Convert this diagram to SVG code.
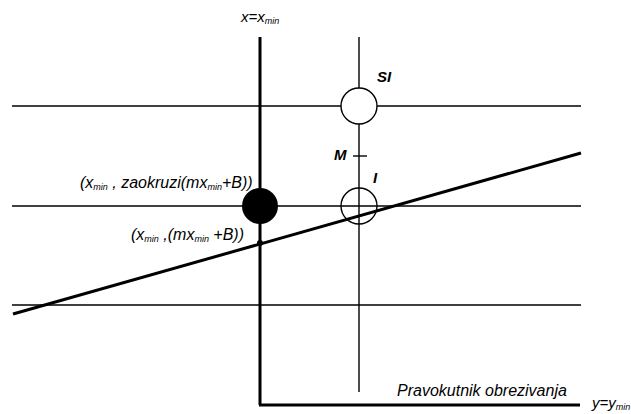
<svg xmlns="http://www.w3.org/2000/svg" width="631" height="414" viewBox="0 0 631 414">
<style>
.thin{stroke:#000;stroke-width:1.4;fill:none}
.thick{stroke:#000;stroke-width:3;fill:none}
.t{font-family:"Liberation Sans",Arial,sans-serif;font-style:italic;font-size:16px;fill:#000}
.b{font-weight:bold;font-size:15px}
.s{font-size:9px}
</style>
<rect width="631" height="414" fill="#fff"/>
<g id="connectors">
<line class="thin" x1="12" y1="106" x2="581" y2="106"/>
<line class="thin" x1="12" y1="206" x2="581" y2="206"/>
<line class="thin" x1="12" y1="305" x2="581" y2="305"/>
<line class="thin" x1="359" y1="37" x2="359" y2="392"/>
<line class="thick" x1="260" y1="37" x2="260" y2="405"/>
<line class="thick" x1="259" y1="405" x2="580" y2="405"/>
<line class="thick" x1="13" y1="314" x2="581" y2="153"/>
<line class="thin" x1="353" y1="156" x2="367" y2="156"/>
</g>
<g id="node-SI"><circle cx="359" cy="106" r="18" fill="#fff" stroke="#000" stroke-width="1.4"/></g>
<g id="node-I"><circle cx="359" cy="206" r="18" fill="none" stroke="#000" stroke-width="1.4"/></g>
<g id="node-filled"><circle cx="260" cy="206" r="18" fill="#000"/></g>
<g id="node-dot"><circle cx="260" cy="243" r="3" fill="#000"/></g>
<g id="labels">
<text class="t" x="241" y="22" style="font-size:15px">x=x<tspan class="s" dy="2">min</tspan></text>
<text class="t b" x="377" y="82">SI</text>
<text class="t b" x="334" y="160">M</text>
<text class="t b" x="373" y="183">I</text>
<text class="t" x="80" y="188">(x<tspan class="s" dy="2">min</tspan><tspan dy="-2"> , zaokruzi(mx</tspan><tspan class="s" dy="2">min</tspan><tspan dy="-2">+B))</tspan></text>
<text class="t" x="131" y="240">(x<tspan class="s" dy="2">min</tspan><tspan dy="-2"> ,(mx</tspan><tspan class="s" dy="2">min</tspan><tspan dy="-2"> +B))</tspan></text>
<text class="t" x="397" y="396">Pravokutnik obrezivanja</text>
<text class="t" x="592" y="408" style="font-size:15px">y=y<tspan class="s" dy="2">min</tspan></text>
</g>
</svg>
